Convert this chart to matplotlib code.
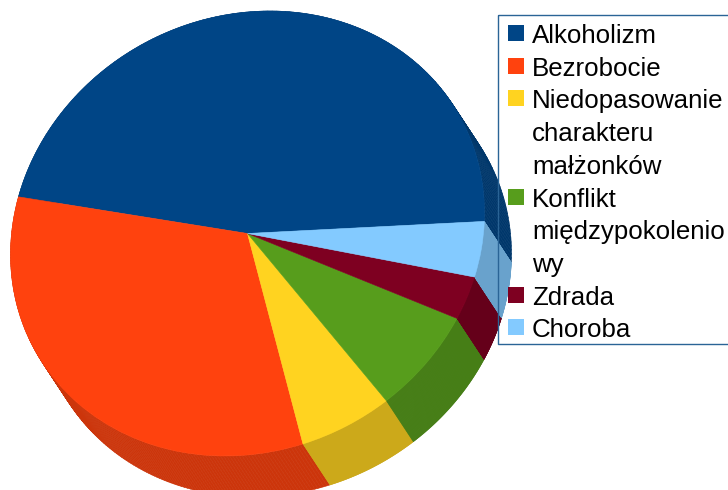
import numpy as np
import matplotlib
matplotlib.use("Agg")
import matplotlib.pyplot as plt
from matplotlib.patches import Rectangle
from matplotlib.collections import PolyCollection
from matplotlib.transforms import Affine2D
from matplotlib.colors import to_rgb

categories = ["Alkoholizm", "Bezrobocie", "Niedopasowanie\ncharakteru\nmałżonków",
              "Konflikt\nmiędzypokolenio\nwy", "Zdrada", "Choroba"]
values = [46.5, 32.9, 6.2, 7.3, 3.1, 4.0]
colors = ["#004586", "#ff420e", "#ffd320", "#579d1c", "#7e0021", "#83caff"]

W, H = 728, 490
CX, CY = 247.5, 233.5
OFF = np.array([27.0, 41.0])
START = -2.3
M = np.array([[237.0, 0.0], [-21.0, -221.5]])

fig = plt.figure(figsize=(W / 100, H / 100), dpi=100, facecolor="white")
ax = fig.add_axes([0, 0, 1, 1])

wedges, _ = ax.pie(values, colors=colors, startangle=START, counterclock=True,
                   wedgeprops=dict(linewidth=0.4))
ax.set_aspect("auto")
ax.set_xlim(0, W)
ax.set_ylim(H, 0)
ax.axis("off")

top = Affine2D.from_values(M[0, 0], M[1, 0], M[0, 1], M[1, 1], CX, CY) + ax.transData
for w, c in zip(wedges, colors):
    w.set_transform(top)
    w.set_edgecolor(c)
    w.set_zorder(3)

# side walls: each slice's rim swept along the extrusion direction
edges = START + 360 * np.cumsum([0] + values) / sum(values)
for a0, a1, c in zip(edges[:-1], edges[1:], colors):
    t = np.radians(np.linspace(a0, a1, 160))
    rim = (M @ np.vstack([np.cos(t), np.sin(t)])).T + [CX, CY]
    quads = [np.array([rim[i], rim[i + 1], rim[i + 1] + OFF, rim[i] + OFF])
             for i in range(len(rim) - 1)]
    dark = tuple(0.8 * v for v in to_rgb(c))
    ax.add_collection(PolyCollection(quads, facecolors=dark, edgecolors=dark,
                                     linewidths=0.4, zorder=2))

# legend
FS = 18.6
STEP = 32.7
y = 43.0
ax.add_patch(Rectangle((498.0, 15.5), 240, 328.5, fill=False, edgecolor="#2a6496",
                       linewidth=1.0, zorder=5, clip_on=False))
for name, c in zip(categories, colors):
    ax.add_patch(Rectangle((508, y - 18), 16, 16, facecolor=c, edgecolor="none", zorder=6))
    for line in name.split("\n"):
        ax.text(532, y, line, fontsize=FS, family="Liberation Sans", color="black",
                ha="left", va="baseline", zorder=6)
        y += STEP

fig.savefig("out.png", dpi=100)
